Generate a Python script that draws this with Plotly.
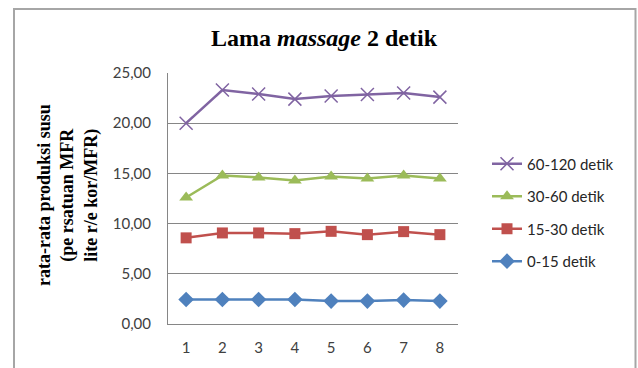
import plotly.graph_objects as go

# Sampling points (x axis) and average milk production per series
titik = [1, 2, 3, 4, 5, 6, 7, 8]
seri_0_15 = [2.44, 2.44, 2.44, 2.44, 2.28, 2.28, 2.38, 2.28]
seri_15_30 = [8.58, 9.07, 9.07, 9.00, 9.23, 8.90, 9.20, 8.90]
seri_30_60 = [12.6, 14.8, 14.6, 14.3, 14.7, 14.5, 14.8, 14.5]
seri_60_120 = [20.0, 23.3, 22.9, 22.4, 22.7, 22.85, 23.0, 22.6]

y_ticks = [0, 5, 10, 15, 20, 25]

W, H = 638, 368
L, R, T, B = 168, 180, 73, 42
pw, ph = W - L - R, H - T - B

fig = go.Figure()

# listed top-to-bottom as they appear in the legend
series = [
    ("60-120 detik", seri_60_120, "#8064A2",
     dict(symbol="x-thin-open", size=13, line=dict(width=1.5, color="#8064A2"))),
    ("30-60 detik", seri_30_60, "#9BBB59", dict(symbol="triangle-up", size=12)),
    ("15-30 detik", seri_15_30, "#C0504D", dict(symbol="square", size=11)),
    ("0-15 detik", seri_0_15, "#4F81BD", dict(symbol="diamond", size=12)),
]

for i, (name, vals, col, mk) in enumerate(series):
    fig.add_trace(go.Scatter(
        x=titik, y=vals, name=name, mode="lines+markers",
        line=dict(color=col, width=2.5),
        marker=dict(color=col, **mk),
        legendgroup=f"g{i}",
    ))

# outer frame around the chart
fig.add_shape(
    type="rect", xref="paper", yref="paper",
    x0=(14 - L) / pw, x1=(635.5 - L) / pw,
    y0=(H - B - 400) / ph, y1=(H - B - 8.5) / ph,
    line=dict(color="#A6A6A6", width=2), fillcolor="rgba(0,0,0,0)", layer="below",
)

fig.add_annotation(
    text="<b>Lama <i>massage</i> 2 detik</b>",
    xref="paper", yref="paper",
    x=(324 - L) / pw, y=(H - B - 38) / ph,
    xanchor="center", yanchor="middle", showarrow=False,
    font=dict(family="Liberation Serif", size=24, color="#000000"),
)

fig.add_annotation(
    text="<b>rata-rata produksi susu<br>(pe rsatuan MFR<br>lite r/e kor/MFR)</b>",
    xref="paper", yref="paper",
    x=(68 - L) / pw, y=(H - B - 196) / ph,
    xanchor="center", yanchor="middle", textangle=-90, showarrow=False,
    font=dict(family="Liberation Serif", size=18, color="#000000"),
)

fig.update_layout(
    width=W, height=H,
    margin=dict(l=L, r=R, t=T, b=B),
    paper_bgcolor="white", plot_bgcolor="white",
    separators=",.",
    font=dict(family="Lato", size=15, color="#404040"),
    showlegend=True,
    legend=dict(
        x=(487 - L) / pw, y=(H - B - 148) / ph, xanchor="left", yanchor="top",
        traceorder="grouped", tracegroupgap=10,
        font=dict(family="Lato", size=15, color="#262626"),
        bgcolor="rgba(0,0,0,0)",
    ),
)

fig.update_xaxes(
    range=[0.5, 8.5], tickvals=titik, ticktext=[str(t) for t in titik],
    showgrid=False, showline=True, linecolor="#868686", linewidth=1,
    ticks="", ticklabelstandoff=10, zeroline=False,
    tickfont=dict(family="Lato", size=15, color="#404040"),
)
fig.update_yaxes(
    range=[0, 25], tickvals=y_ticks, tickformat=".2f",
    showgrid=True, gridcolor="#868686", gridwidth=1,
    showline=True, linecolor="#868686", linewidth=1,
    ticks="", ticklabelstandoff=13, zeroline=False,
    tickfont=dict(family="Lato", size=15, color="#404040"),
)

fig.write_html("out.html")
